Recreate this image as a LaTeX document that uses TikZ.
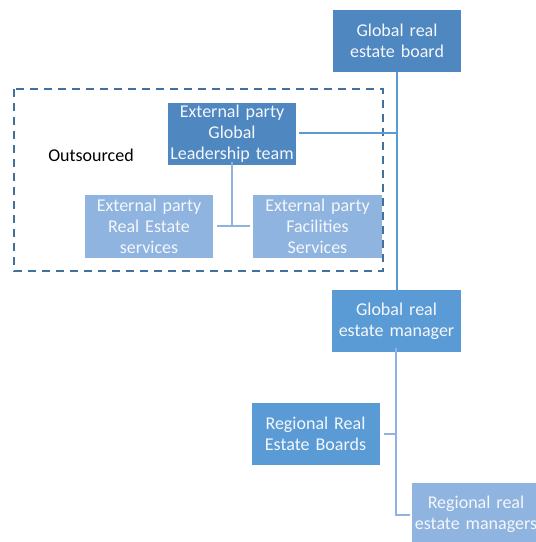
\documentclass[tikz,border=0pt]{standalone}
\usepackage{fontspec}
\setmainfont{Carlito}
\definecolor{darkbox}{HTML}{4F87C0}
\definecolor{midbox}{HTML}{5B9BD5}
\definecolor{lightbox}{HTML}{8FB4DF}
\definecolor{linkblue}{HTML}{8FB3DE}
\definecolor{trunkblue}{HTML}{5B9BD5}
\definecolor{dashblue}{HTML}{41719C}
\definecolor{boxtext}{HTML}{F4F7FB}
\begin{document}
\begin{tikzpicture}[x=1pt,y=-1pt,
  orgbox/.style={rectangle, inner sep=0pt, minimum width=128pt, minimum height=62pt,
    text width=134pt, align=center, text=boxtext,
    font=\fontsize{18}{21}\selectfont},
  link/.style={draw=linkblue, line width=2pt},
  trunk/.style={draw=trunkblue, line width=2pt}]
\useasboundingbox (0,0) rectangle (536,542);
\fill[white] (0,0) rectangle (536,542);

% outsourced area
\draw[dashblue, line width=2.8pt, dash pattern=on 8pt off 6pt] (14,89) rectangle (383,271);
\node (out) at (91,155) {\fontsize{18}{21}\selectfont Outsourced};

% boxes
\node[orgbox, fill=darkbox, text width=128pt] (board) at (397,41) {Global real\\estate board};
\node[orgbox, fill=darkbox, text width=128pt] (lead) at (232,134) {External party\\Global\\Leadership team};
\node[orgbox, fill=lightbox, minimum height=63pt, text width=128pt] (res) at (149,226.5) {External party\\Real Estate\\services};
\node[orgbox, fill=lightbox, minimum height=63pt, text width=129pt] (fac) at (317.5,226.5) {External party\\Facilities\\Services};
\node[orgbox, fill=midbox, text width=129pt] (mgr) at (396.5,321) {Global real\\estate manager};
\node[orgbox, fill=midbox, text width=127pt] (rboards) at (315.5,434) {Regional Real\\Estate Boards};
\node[orgbox, fill=lightbox, text width=128pt] (rmgrs) at (476,514) {Regional real\\estate managers};

% junction points
\coordinate (j1) at (397,133);
\coordinate (j2) at (232,226);
\coordinate (j3) at (396,434);
\coordinate (j4) at (396,515);

% connectors
\draw[trunk] (board.south) -- (mgr.north -| board.south);
\draw[trunk] ([xshift=3pt]lead.east |- j1) -- (j1);
\draw[link] ([yshift=3pt]lead.south) -- (j2);
\draw[link] ([xshift=4pt]res.east |- j2) -- ([xshift=-3pt]fac.west |- j2);
\draw[link] ([yshift=4pt]mgr.south -| j3) -- (j4) -- ([xshift=-2pt]rmgrs.west |- j4);
\draw[link] ([xshift=4pt]rboards.east) -- (j3);
\end{tikzpicture}
\end{document}
